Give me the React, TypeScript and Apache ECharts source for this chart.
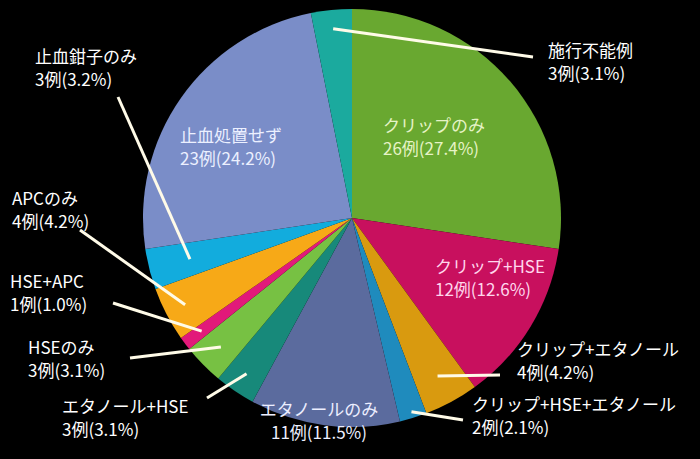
import React, { useEffect, useRef } from "react";
import * as echarts from "echarts";

const names = [
  "クリップのみ",
  "クリップ+HSE",
  "クリップ+エタノール",
  "クリップ+HSE+エタノール",
  "エタノールのみ",
  "エタノール+HSE",
  "HSEのみ",
  "HSE+APC",
  "APCのみ",
  "止血鉗子のみ",
  "止血処置せず",
  "施行不能例",
];
const counts = [26, 12, 4, 2, 11, 3, 3, 1, 4, 3, 23, 3];
const pctLabels = ["27.4", "12.6", "4.2", "2.1", "11.5", "3.1", "3.1", "1.0", "4.2", "3.2", "24.2", "3.1"];
const colors = [
  "#69A830",
  "#C8105E",
  "#D99A0F",
  "#1F8BBD",
  "#5B6B9E",
  "#17897A",
  "#77C143",
  "#E2197A",
  "#F7A917",
  "#12ACDD",
  "#7A8DC8",
  "#1BAA9E",
];
const labelColors = [
  "#E6F3C6",
  "#FFD6EC",
  "#FFFFFF",
  "#FFFFFF",
  "#ECEEFF",
  "#FFFFFF",
  "#FFFFFF",
  "#FFFFFF",
  "#FFFFFF",
  "#FFFFFF",
  "#ECF0FF",
  "#FFFFFF",
];

// label placement (layout only)
const labelPos = [
  { x: 383, y: 136, align: "left" },
  { x: 435, y: 277, align: "left" },
  { x: 517, y: 360, align: "left" },
  { x: 472, y: 415, align: "left" },
  { x: 319, y: 420, align: "center" },
  { x: 62, y: 417, align: "left" },
  { x: 28, y: 358, align: "left" },
  { x: 10, y: 292, align: "left" },
  { x: 12, y: 209, align: "left" },
  { x: 35, y: 67, align: "left" },
  { x: 180, y: 146, align: "left" },
  { x: 548, y: 61, align: "left" },
];

// leader lines: slice index, radius fraction of start, label-side end
const leaders = [
  { i: 11, f: 0.91, x: 533, y: 57 },
  { i: 9, f: 0.8, x: 118, y: 97 },
  { i: 8, f: 0.9, x: 80, y: 230 },
  { i: 7, f: 0.9, x: 113, y: 303 },
  { i: 6, f: 0.88, x: 130, y: 358 },
  { i: 5, f: 0.9, x: 207, y: 398 },
  { i: 2, f: 0.86, x: 500, y: 375 },
  { i: 3, f: 0.97, x: 463, y: 420 },
];

export default function App() {
  const ref = useRef<HTMLDivElement>(null);
  useEffect(() => {
    const chart = echarts.init(ref.current!, null, { renderer: "svg" });
    chart.setOption({
      animation: false,
      backgroundColor: "#000000",
      series: [
        {
          type: "pie",
          center: [352, 218],
          radius: 209,
          startAngle: 90,
          clockwise: true,
          avoidLabelOverlap: false,
          silent: true,
          label: {
            show: true,
            fontSize: 17,
            lineHeight: 23,
            fontFamily: "'Noto Sans CJK JP', sans-serif",
            formatter: (p: any) => `${p.name}\n${p.value}例(${pctLabels[p.dataIndex]}%)`,
          },
          labelLine: { show: false },
          labelLayout: (p: any) => {
            const lp = labelPos[p.dataIndex];
            return { x: lp.x, y: lp.y, align: lp.align, verticalAlign: "middle" };
          },
          data: names.map((n, i) => ({
            name: n,
            value: counts[i],
            itemStyle: { color: colors[i] },
            label: { color: labelColors[i] },
          })),
        },
      ],
    });
    const data = (chart as any).getModel().getSeriesByIndex(0).getData();
    const lines = leaders.map((l) => {
      const lay = data.getItemLayout(l.i);
      const mid = (lay.startAngle + lay.endAngle) / 2;
      const r = lay.r * l.f;
      return {
        type: "line",
        z: 100,
        shape: { x1: lay.cx + r * Math.cos(mid), y1: lay.cy + r * Math.sin(mid), x2: l.x, y2: l.y },
        style: { stroke: "#FFFBE8", lineWidth: 3 },
      };
    });
    chart.setOption({ graphic: lines });
    return () => chart.dispose();
  }, []);
  return <div ref={ref} style={{ position: "fixed", left: 0, top: 0, width: 700, height: 459 }} />;
}
